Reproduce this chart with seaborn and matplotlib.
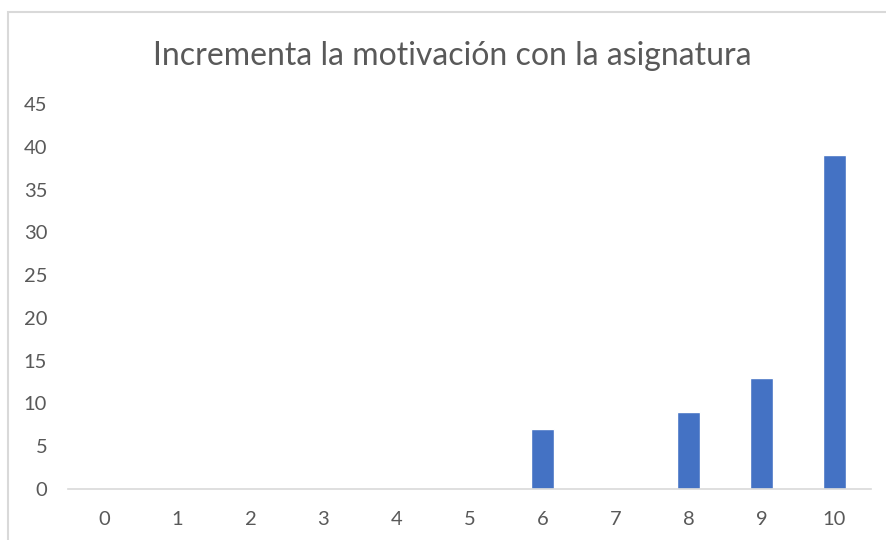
import pandas as pd
import numpy as np
import matplotlib.pyplot as plt
import seaborn as sns
from matplotlib.patches import Rectangle

# Datos
puntuaciones = ["0", "1", "2", "3", "4", "5", "6", "7", "8", "9", "10"]
respuestas = [0, 0, 0, 0, 0, 0, 7, 0, 9, 13, 39]
titulo = "Incrementa la motivación con la asignatura"

df = pd.DataFrame({"puntuacion": puntuaciones, "respuestas": respuestas})

sns.set_style("white")
plt.rcParams['font.family'] = ['Lato', 'DejaVu Sans']

gris = "#595959"
fig = plt.figure(figsize=(8.87, 5.40), dpi=100)
ax = fig.add_axes([68 / 887, 1 - 489 / 540, (871 - 68) / 887, (489 - 104) / 540])

sns.barplot(data=df, x="puntuacion", y="respuestas", order=puntuaciones,
            color="#4472C4", width=0.31, saturation=1, ax=ax)

ax.set_ylim(0, 45)
ax.set_xlim(-0.5, 10.5)
ax.set_yticks(np.arange(0, 46, 5))
ax.set_xlabel("")
ax.set_ylabel("")

for s in ["top", "right", "left"]:
    ax.spines[s].set_visible(False)
ax.spines["bottom"].set_color("#d9d9d9")
ax.spines["bottom"].set_linewidth(1.2)

ax.tick_params(axis="both", length=0, labelsize=14.5, labelcolor=gris)
ax.tick_params(axis="y", pad=15)
ax.tick_params(axis="x", pad=16)

fig.text(452 / 887, 1 - 56 / 540, titulo, ha="center", va="center",
         fontsize=23, color=gris)

# marco del gráfico
marco = Rectangle((8 / 887, -0.1), 1.2, 1 - 12 / 540 + 0.1, transform=fig.transFigure,
                  fill=False, edgecolor="#d9d9d9", linewidth=1.5)
fig.patches.append(marco)

fig.savefig("out.png", dpi=100)
